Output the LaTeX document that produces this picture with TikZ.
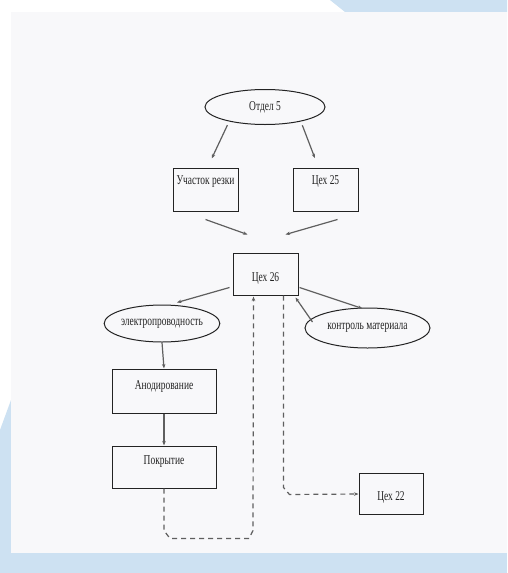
\documentclass[tikz,border=0pt]{standalone}
\usepackage{fontspec}
\newfontfamily\condserif[FakeStretch=0.7]{Liberation Serif}
\usetikzlibrary{shapes.geometric,arrows.meta,calc}
\definecolor{frameblue}{RGB}{205,225,242}
\definecolor{paper}{RGB}{248,248,250}
\definecolor{inkdark}{RGB}{35,35,35}
\definecolor{inkgray}{RGB}{95,95,95}
\tikzset{
  lbl/.style={font=\condserif\fontsize{13.5}{15}\selectfont, text=inkdark},
  ell/.style={lbl, ellipse, draw=inkdark, line width=1pt, inner sep=0pt},
  box/.style={lbl, rectangle, draw=inkdark, line width=1pt, inner sep=0pt, align=center},
  arr/.style={draw=inkgray, line width=1.2pt, -{Stealth[length=4.5pt,width=3.5pt]}},
  dsh/.style={draw=inkgray, line width=1.2pt, dash pattern=on 5pt off 4pt},
}
\begin{document}
\begin{tikzpicture}[x=1pt,y=-1pt]
\useasboundingbox (0,0) rectangle (507,573);
\fill[white] (0,0) rectangle (507,573);
\fill[frameblue] (0,553) rectangle (507,573);
\fill[frameblue] (0,430) -- (11,400) -- (11,573) -- (0,573) -- cycle;
\fill[frameblue] (330,0) -- (507,0) -- (507,12) -- (345,12) -- cycle;
\fill[paper] (11,12) rectangle (507,553);

\node[ell, minimum width=120pt, minimum height=35pt] (o5) at (265,107) {Отдел 5};
\node[box, minimum width=65pt, text height=16.5pt, text depth=26.5pt] (u) at (205.5,189.5) {Участок резки};
\node[box, minimum width=65pt, text height=16.5pt, text depth=26.5pt] (c25) at (325.5,189.5) {Цех 25};
\node[box, minimum width=65pt, text height=28pt, text depth=14pt] (c26) at (265.5,274) {Цех 26};
\node[ell, minimum width=108pt, minimum height=37pt] (el) at (162,323.5) {электропроводность};
\node[ell, minimum width=125pt, minimum height=40pt] (km) at (367.5,328) {контроль материала};
\node[box, minimum width=104pt, text height=20.5pt, text depth=23.5pt] (an) at (164,391) {Анодирование};
\node[box, minimum width=104pt, text height=18.5pt, text depth=23.5pt] (pk) at (164,467) {Покрытие};
\node[box, minimum width=64pt, text height=27pt, text depth=14pt] (c22) at (391,494) {Цех 22};

% arrows from Отдел 5
\draw[arr, shorten <=4pt, shorten >=10pt] (o5.202) -- ($(u.north)+(2,0)$);
\draw[arr, shorten <=4pt, shorten >=10pt] (o5.-22) -- ($(c25.north)+(-7,0)$);
% arrows into Цех 26
\draw[arr] ($(u.south)+(0,8)$) -- ($(c26.north west)+(15,-18)$);
\draw[arr] ($(c25.south)+(12,8)$) -- ($(c26.north east)+(-13,-18)$);
% Цех 26 to ellipses
\draw[arr] ($(c26.south west)+(-3,-8)$) -- ($(el.north)+(15,-2)$);
\draw[arr] ($(c26.south east)+(1,-8)$) -- ($(km.north)+(-5,1)$);
\draw[arr] ($(km.west)+(8,-6)$) -- ($(c26.south east)+(-3,2)$);
% left chain
\draw[arr] (el.south) -- (an.north);
\draw[arr] (an.south) -- (pk.north);
% dashed loops
\draw[dsh, -{Stealth[length=4.5pt,width=3.5pt]}] (pk.south) -- ++(0,42) -- ++(6,8) -- ++(79,0) -- ++(4,-8) -- ($(c26.south west)+(21,1)$);
\draw[dsh, -{Stealth[length=4.5pt,width=3.5pt]}] ($(c26.south east)+(-15,0)$) -- ++(0,192) -- ++(6,7) -- (c22.west);
\end{tikzpicture}
\end{document}
